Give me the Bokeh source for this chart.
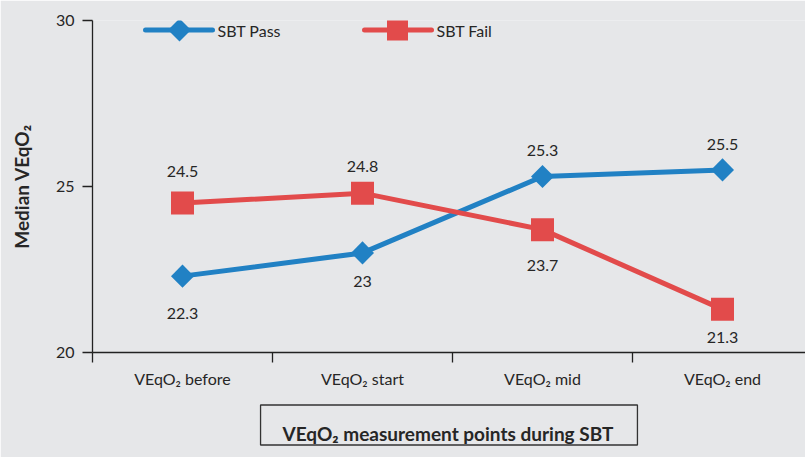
from bokeh.plotting import figure
from bokeh.models import Range1d, FixedTicker, Title, ColumnDataSource
from bokeh.core.properties import value
from bokeh.embed import file_html
from bokeh.resources import INLINE
import math

# ---- data ----
categories = ["VEqO\u2082 before", "VEqO\u2082 start", "VEqO\u2082 mid", "VEqO\u2082 end"]
sbt_pass = [22.3, 23.0, 25.3, 25.5]
sbt_fail = [24.5, 24.8, 23.7, 21.3]
pass_labels = ["22.3", "23", "25.3", "25.5"]
fail_labels = ["24.5", "24.8", "23.7", "21.3"]
series_names = ["SBT Pass", "SBT Fail"]
y_ticks = [20, 25, 30]

# label offsets in pixels (style)
pass_offsets = [37, 29, -26, -25]
fail_offsets = [-32, -27, 36, 28]

BG = "#e6e7e9"
BLUE = "#2181c4"
RED = "#e24b4b"
TXT = "#262626"
AX = "#222222"
FONT = "Lato"

# layout (pixels)
W, H = 805, 457
FL, FT, FB = 92, 20, 352          # frame left / top / bottom
Y0, Y1 = 20, 30
X_END = (W - FL) / 180.0
PX_PER_Y = (FB - FT) / (Y1 - Y0)

def px_to_x(px):
    return (px - FL) / 180.0

def px_to_y(py):
    return Y0 + (FB - py) / PX_PER_Y

xs = [i + 0.5 for i in range(len(categories))]

p = figure(width=W, height=H, output_backend="svg", toolbar_location=None,
           x_range=Range1d(0, X_END), y_range=Range1d(Y0, Y1),
           min_border_left=FL, min_border_right=0, min_border_top=FT,
           min_border_bottom=H - FB)
p.background_fill_color = BG
p.border_fill_color = BG
p.outline_line_color = None
p.xgrid.visible = False
p.ygrid.visible = False

# axes
p.yaxis.ticker = FixedTicker(ticks=y_ticks)
p.yaxis.major_tick_out = 10
p.yaxis.major_tick_in = 0
p.yaxis.minor_tick_line_color = None
p.yaxis.major_label_text_font = FONT
p.yaxis.major_label_text_font_size = "16px"
p.yaxis.major_label_text_color = TXT
p.yaxis.major_label_standoff = 8
p.yaxis.axis_label = "Median VEqO\u2082"
p.yaxis.axis_label_text_font = FONT
p.yaxis.axis_label_text_font_style = "bold"
p.yaxis.axis_label_text_font_size = "19px"
p.yaxis.axis_label_text_color = TXT
p.yaxis.axis_label_standoff = 20

p.xaxis.ticker = FixedTicker(ticks=xs, minor_ticks=list(range(len(categories) + 1)))
p.xaxis.major_label_overrides = {x: c for x, c in zip(xs, categories)}
p.xaxis.major_tick_out = 0
p.xaxis.minor_tick_out = 10
p.xaxis.minor_tick_in = 0
p.xaxis.major_label_text_font = FONT
p.xaxis.major_label_text_font_size = "16px"
p.xaxis.major_label_text_color = TXT
p.xaxis.major_label_standoff = 6

for ax in (p.xaxis, p.yaxis):
    ax.axis_line_color = AX
    ax.axis_line_width = 1.3
    ax.major_tick_line_width = 1.3
    ax.minor_tick_line_width = 1.3
    ax.major_tick_line_color = AX
p.xaxis.major_tick_line_color = None
p.xaxis.minor_tick_line_color = AX

src_pass = ColumnDataSource(dict(x=xs, y=sbt_pass, t=pass_labels, off=pass_offsets))
src_fail = ColumnDataSource(dict(x=xs, y=sbt_fail, t=fail_labels, off=fail_offsets))

p.line("x", "y", source=src_pass, line_color=BLUE, line_width=5)
p.scatter("x", "y", source=src_pass, marker="square", size=16.3,
          angle=math.pi / 4, fill_color=BLUE, line_color=None)
p.line("x", "y", source=src_fail, line_color=RED, line_width=5)
p.scatter("x", "y", source=src_fail, marker="square", size=23,
          fill_color=RED, line_color=None)

for src in (src_pass, src_fail):
    p.text("x", "y", text="t", source=src, y_offset="off",
           text_align="center", text_baseline="middle",
           text_font=value(FONT), text_font_size=value("16px"),
           text_color=TXT)

# ---- legend drawn as decoration (pixel layout converted to data space) ----
leg_y = px_to_y(29.5)
leg = [  # (line start px, line end px, marker centre px, label px)
    (145, 212, 179, 217),
    (364, 431, 397, 436),
]
for (a, b, c, t), col, name, sz, ang in zip(
        leg, (BLUE, RED), series_names, (16.3, 21), (math.pi / 4, 0)):
    p.line([px_to_x(a), px_to_x(b)], [leg_y, leg_y], line_color=col,
           line_width=5, line_cap="round")
    p.scatter([px_to_x(c)], [leg_y], marker="square", size=sz, angle=ang,
              fill_color=col, line_color=None)
    p.text([px_to_x(t)], [leg_y], text=[name], text_align="left",
           text_baseline="middle", text_font=value(FONT),
           text_font_size=value("16px"), text_color=TXT)

# x-axis title in a box near the bottom edge of the page
title = Title(text="VEqO\u2082 measurement points during SBT", align="center",
              offset=5, standoff=25,
              text_font=FONT, text_font_style="bold", text_font_size="19px",
              text_color=TXT, border_line_color="#333333", border_line_width=1.3,
              padding=(22, 24, 17, 0))
p.add_layout(title, "below")

open("out.html", "w").write(file_html(p, INLINE))
